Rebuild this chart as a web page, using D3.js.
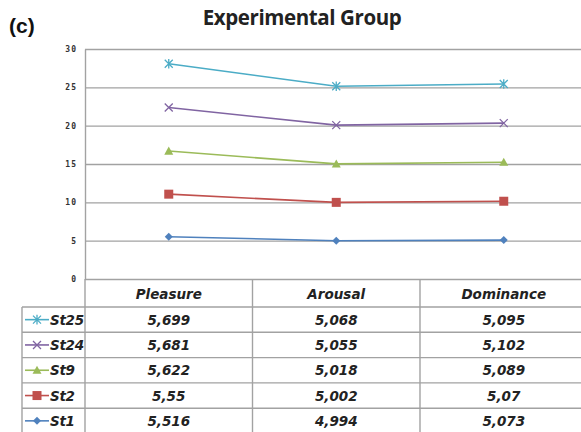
<!DOCTYPE html>
<html>
<head>
<meta charset="utf-8">
<script src="https://cdn.jsdelivr.net/npm/d3@7"></script>
<style>
  html, body { margin: 0; padding: 0; background: #fff; }
  svg { display: block; }
</style>
</head>
<body>
<svg id="chart" width="581" height="432"></svg>
<script>
// Mean ratings per student across the three emotional dimensions
const categories = ["Pleasure", "Arousal", "Dominance"];
const seriesNames = ["St1", "St2", "St9", "St24", "St25"];
const st1  = [5.516, 4.994, 5.073];
const st2  = [5.55, 5.002, 5.07];
const st9  = [5.622, 5.018, 5.089];
const st24 = [5.681, 5.055, 5.102];
const st25 = [5.699, 5.068, 5.095];
const yTicks = [0, 5, 10, 15, 20, 25, 30];

const seriesValues = [st1, st2, st9, st24, st25];
const colors = ["#4f81bd", "#c0504d", "#9bbb59", "#8064a2", "#4bacc6"];
const markers = ["diamond", "square", "triangle", "x", "star"];

const svg = d3.select("#chart");
const plotLeft = 85, plotRight = 587.5, plotTop = 49, plotBottom = 279;

const x = d3.scaleBand().domain(categories).range([plotLeft, plotRight]).paddingInner(0).paddingOuter(0);
const y = d3.scaleLinear().domain([0, 30]).range([plotBottom, plotTop]);

// Stacked lines: each series sits on top of the ones below it
const table = categories.map((c, i) => {
  const row = { category: c };
  seriesNames.forEach((s, k) => row[s] = seriesValues[k][i]);
  return row;
});
const stacked = d3.stack().keys(seriesNames)(table);

// Title and panel label
svg.append("text").attr("x", 9).attr("y", 33)
  .attr("font-family", "Liberation Sans, Arial, sans-serif").attr("font-weight", "bold")
  .attr("font-size", 21).attr("fill", "#111").text("(c)");
svg.append("text").attr("x", 302).attr("y", 25).attr("text-anchor", "middle")
  .attr("font-family", "Open Sans, sans-serif").attr("font-weight", "bold")
  .attr("font-size", 20.5).attr("fill", "#222").attr("letter-spacing", -0.4)
  .text("Experimental Group");

const gridColor = "#a2a2a2";

// Horizontal gridlines
const grid = svg.append("g").attr("transform", `translate(${plotLeft},0)`)
  .call(d3.axisLeft(y).tickValues(yTicks).tickSize(-(plotRight - plotLeft)).tickFormat(""));
grid.select(".domain").remove();
grid.selectAll(".tick line").attr("stroke", gridColor).attr("stroke-width", 1.4);

// Vertical value axis
const yAxis = svg.append("g").attr("transform", `translate(${plotLeft},0)`)
  .call(d3.axisLeft(y).tickValues(yTicks).tickSize(0).tickPadding(8));
yAxis.select(".domain").attr("stroke", gridColor).attr("stroke-width", 1.4);
yAxis.selectAll(".tick text")
  .attr("font-family", "DejaVu Sans Mono, monospace").attr("font-weight", "bold")
  .attr("font-size", 8).attr("fill", "#333").attr("letter-spacing", 1);

// Lines
const line = d3.line().x(d => x(d.data.category) + x.bandwidth() / 2).y(d => y(d[1]));
stacked.forEach((layer, k) => {
  svg.append("path").datum(layer).attr("d", line)
    .attr("fill", "none").attr("stroke", colors[k]).attr("stroke-width", 1.6);
});

function drawMarker(g, type, cx, cy, color, s) {
  if (type === "diamond") {
    g.append("path").attr("d", `M${cx},${cy - s}L${cx + s},${cy}L${cx},${cy + s}L${cx - s},${cy}Z`)
      .attr("fill", color);
  } else if (type === "square") {
    g.append("rect").attr("x", cx - s).attr("y", cy - s).attr("width", 2 * s).attr("height", 2 * s)
      .attr("fill", color);
  } else if (type === "triangle") {
    g.append("path").attr("d", `M${cx},${cy - s}L${cx + s},${cy + s * 0.8}L${cx - s},${cy + s * 0.8}Z`)
      .attr("fill", color);
  } else if (type === "x") {
    g.append("path").attr("d", `M${cx - s},${cy - s}L${cx + s},${cy + s}M${cx - s},${cy + s}L${cx + s},${cy - s}`)
      .attr("stroke", color).attr("stroke-width", 1.3).attr("fill", "none");
  } else if (type === "star") {
    g.append("path").attr("d", `M${cx - s},${cy - s}L${cx + s},${cy + s}M${cx - s},${cy + s}L${cx + s},${cy - s}M${cx},${cy - s * 1.2}L${cx},${cy + s * 1.2}`)
      .attr("stroke", color).attr("stroke-width", 1.3).attr("fill", "none");
  }
}

const markerSize = { diamond: 4, square: 4.5, triangle: 4.5, x: 4, star: 4 };
stacked.forEach((layer, k) => {
  const g = svg.append("g");
  layer.forEach(d => {
    drawMarker(g, markers[k], x(d.data.category) + x.bandwidth() / 2, y(d[1]), colors[k], markerSize[markers[k]]);
  });
});

// Data table beneath the plot
const legendLeft = 22;
const headerTop = plotBottom, headerBottom = 307, rowH = 25.3;
const rowOrder = [4, 3, 2, 1, 0]; // top row shows the uppermost series
const tg = svg.append("g");

// horizontal rules
tg.append("line").attr("x1", legendLeft).attr("x2", plotRight).attr("y1", headerBottom).attr("y2", headerBottom);
rowOrder.forEach((k, r) => {
  const yy = headerBottom + rowH * (r + 1);
  tg.append("line").attr("x1", legendLeft).attr("x2", plotRight).attr("y1", yy).attr("y2", yy);
});
// vertical rules
const tableBottom = headerBottom + rowH * rowOrder.length;
tg.append("line").attr("x1", legendLeft).attr("x2", legendLeft).attr("y1", headerBottom).attr("y2", tableBottom);
tg.append("line").attr("x1", plotLeft).attr("x2", plotLeft).attr("y1", headerTop).attr("y2", tableBottom);
categories.forEach(c => {
  const xx = x(c) + x.bandwidth();
  tg.append("line").attr("x1", xx).attr("x2", xx).attr("y1", headerTop).attr("y2", tableBottom);
});
tg.selectAll("line").attr("stroke", gridColor).attr("stroke-width", 1.4);

const cellFont = "'DejaVu Sans', sans-serif";
const cellSize = 13.5;
// header
categories.forEach(c => {
  tg.append("text").attr("x", x(c) + x.bandwidth() / 2).attr("y", headerBottom - 8)
    .attr("text-anchor", "middle").attr("font-family", cellFont).attr("font-style", "italic")
    .attr("font-weight", "bold").attr("font-size", cellSize).attr("fill", "#222").text(c);
});

const fmt = v => String(v).replace(".", ",");
rowOrder.forEach((k, r) => {
  const cy = headerBottom + rowH * r + rowH / 2;
  // legend key
  const lx0 = legendLeft + 3, lx1 = legendLeft + 27;
  tg.append("line").attr("x1", lx0).attr("x2", lx1).attr("y1", cy).attr("y2", cy)
    .attr("stroke", colors[k]).attr("stroke-width", 1.6);
  drawMarker(tg, markers[k], (lx0 + lx1) / 2, cy, colors[k], markerSize[markers[k]]);
  tg.append("text").attr("x", lx1 + 1).attr("y", cy + 5)
    .attr("font-family", cellFont).attr("font-style", "italic").attr("font-weight", "bold")
    .attr("font-size", cellSize).attr("fill", "#222").attr("letter-spacing", -0.3).text(seriesNames[k]);
  categories.forEach((c, i) => {
    tg.append("text").attr("x", x(c) + x.bandwidth() / 2).attr("y", cy + 5)
      .attr("text-anchor", "middle").attr("font-family", cellFont).attr("font-style", "italic")
      .attr("font-weight", "bold").attr("font-size", cellSize).attr("fill", "#222")
      .text(fmt(seriesValues[k][i]));
  });
});
</script>
</body>
</html>
